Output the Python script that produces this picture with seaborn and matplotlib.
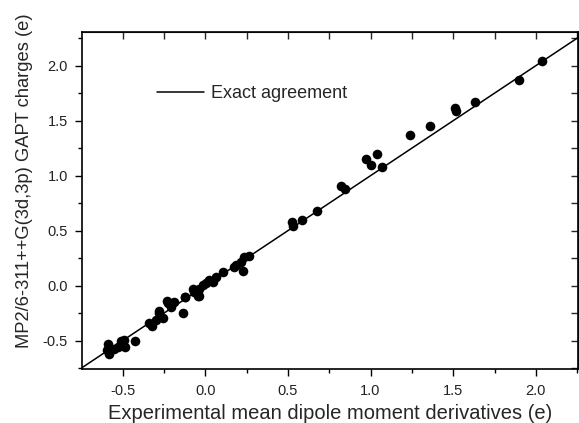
import numpy as np
import pandas as pd
import matplotlib
matplotlib.use("Agg")
import matplotlib.pyplot as plt
import seaborn as sns
from matplotlib.ticker import MultipleLocator

# Data
exp_vals = [2.04, 1.898, 1.63, 1.509, 1.515, 1.362, 1.237, 1.039, 0.975, 1.005, 1.067,
            0.821, 0.845, 0.675, 0.587, 0.524, 0.534,
            0.268, 0.232, 0.218, 0.228, 0.188, 0.177, 0.107, 0.067, 0.026, 0.046,
            -0.015, 0.006, -0.039, -0.075, -0.045, -0.065, -0.035, -0.125, -0.119,
            -0.136, -0.186, -0.206, -0.226, -0.23, -0.277, -0.277, -0.257, -0.297,
            -0.337, -0.321, -0.422, -0.488, -0.508, -0.482, -0.529, -0.549, -0.59,
            -0.579, -0.596]
gapt_vals = [2.045, 1.87, 1.673, 1.613, 1.59, 1.452, 1.37, 1.197, 1.152, 1.097, 1.082,
             0.906, 0.876, 0.676, 0.597, 0.582, 0.543,
             0.27, 0.258, 0.218, 0.136, 0.188, 0.173, 0.127, 0.082, 0.052, 0.036,
             0.006, 0.022, -0.033, -0.033, -0.094, -0.055, -0.094, -0.1, -0.106,
             -0.245, -0.145, -0.197, -0.16, -0.136, -0.251, -0.227, -0.297, -0.312,
             -0.342, -0.366, -0.5, -0.494, -0.503, -0.56, -0.555, -0.578, -0.53,
             -0.621, -0.585]
line_x = [-0.75, 2.27]
line_y = [-0.75, 2.27]
tick_vals = [-0.5, 0.0, 0.5, 1.0, 1.5, 2.0]
tick_labels = ["-0.5", "0.0", "0.5", "1.0", "1.5", "2.0"]

df = pd.DataFrame({"exp": exp_vals, "gapt": gapt_vals})
dl = pd.DataFrame({"x": line_x, "y": line_y})

sns.set_style("white")
plt.rcParams["font.family"] = ["Liberation Sans", "DejaVu Sans"]

fig = plt.figure(figsize=(5.79, 4.23), dpi=100)
ax = fig.add_axes([82/579, 1 - 369/423, (578-82)/579, (369-32)/423])

sns.lineplot(data=dl, x="x", y="y", ax=ax, color="black", linewidth=1.1,
             label="Exact agreement")
sns.scatterplot(data=df, x="exp", y="gapt", ax=ax, color="black", s=48,
                edgecolor="black", linewidth=0, zorder=3)

ax.set_xlim(-0.745, 2.255)
ax.set_ylim(-0.757, 2.306)

ax.xaxis.set_minor_locator(MultipleLocator(0.25))
ax.yaxis.set_minor_locator(MultipleLocator(0.25))
ax.set_xticks(tick_vals)
ax.set_xticklabels(tick_labels)
ax.set_yticks(tick_vals)
ax.set_yticklabels(tick_labels)

ax.tick_params(which="major", direction="out", length=5, width=1, color="black",
               labelsize=10.5, labelcolor="#222222", bottom=True, left=True, pad=5)
ax.tick_params(axis="x", which="major", pad=6)
ax.tick_params(which="minor", direction="out", length=3, width=1, color="black",
               bottom=True, left=True)
for sp in ax.spines.values():
    sp.set_color("black")
    sp.set_linewidth(1.2)

sec_x = ax.secondary_xaxis("top")
sec_x.xaxis.set_major_locator(MultipleLocator(0.25))
sec_x.tick_params(direction="in", length=5, width=1, labeltop=False)
sec_y = ax.secondary_yaxis("right")
sec_y.yaxis.set_major_locator(MultipleLocator(0.25))
sec_y.tick_params(direction="in", length=5, width=1, labelright=False)

ax.set_xlabel("Experimental mean dipole moment derivatives (e)", fontsize=14.5, labelpad=4)
ax.set_ylabel("MP2/6-311++G(3d,3p) GAPT charges (e)", fontsize=13.2)
ax.yaxis.set_label_coords(-0.098, 0.558)

leg = ax.legend(loc="upper left", bbox_to_anchor=(0.118, 0.891), frameon=False,
                fontsize=13, handlelength=2.6, handletextpad=0.4)

fig.savefig("out.png", dpi=100)
